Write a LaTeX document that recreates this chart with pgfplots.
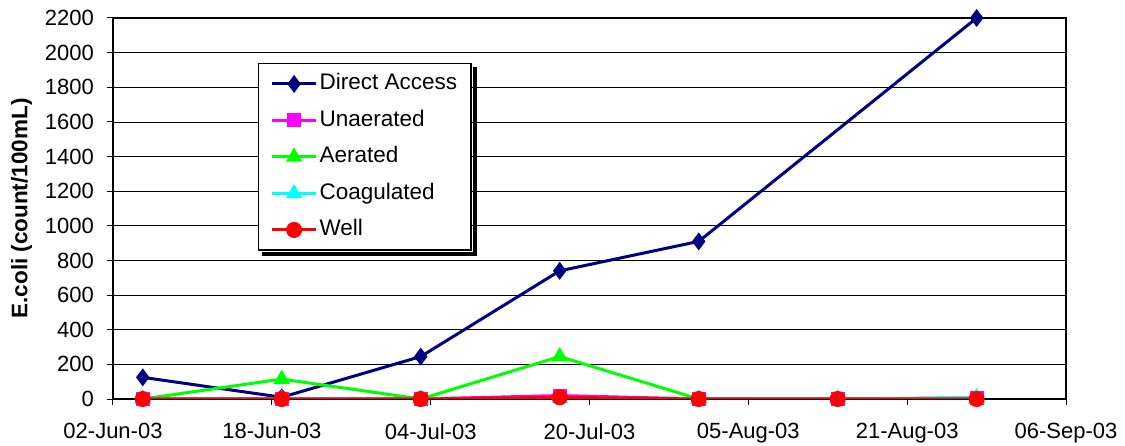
\documentclass[border=0pt]{standalone}
\usepackage{fontspec}
\setmainfont{Liberation Sans}
\usepackage{pgfplots}
\pgfplotsset{compat=1.18}

\definecolor{daccess}{RGB}{0,0,128}
\definecolor{unaer}{RGB}{255,0,255}
\definecolor{aer}{RGB}{0,255,0}
\definecolor{coag}{RGB}{0,255,255}
\definecolor{well}{RGB}{255,0,0}

% sampling days counted from 02-Jun-03
\pgfplotstableread{
day val
3   125
17  10
31  245
45  740
59  910
87  2200
}\directaccess
\pgfplotstableread{
day val
3   0
17  0
31  0
45  20
59  0
73  0
87  5
}\unaerated
\pgfplotstableread{
day val
3   0
17  115
31  0
45  245
59  0
73  0
87  0
}\aerated
\pgfplotstableread{
day val
3   0
17  0
31  0
45  5
59  0
73  0
87  10
}\coagulated
\pgfplotstableread{
day val
3   0
17  0
31  0
45  10
59  0
73  0
87  0
}\wellwater

\tikzset{series/.style={line width=3bp, mark size=#1,
  mark options={solid, line width=0.5bp}}}

\begin{document}
\begin{tikzpicture}
\useasboundingbox (-113bp,-47bp) rectangle (1012bp,399bp);
\begin{axis}[
  at={(0,0)}, anchor=south west,
  scale only axis, width=953bp, height=381bp,
  xmin=0, xmax=96, ymin=0, ymax=2200,
  xtick={0,16,...,96},
  xticklabels={02-Jun-03,18-Jun-03,04-Jul-03,20-Jul-03,05-Aug-03,21-Aug-03,06-Sep-03},
  ytick={0,200,...,2200},
  ymajorgrids, grid style={black, line width=0.8bp},
  axis line style={black, line width=1.5bp},
  tick pos=left, tick align=outside, major tick length=6bp,
  tick style={black, line width=1bp},
  /pgf/number format/assume math mode=true,
  /pgf/number format/1000 sep={},
  yticklabel style={font=\fontsize{22bp}{26bp}\selectfont, inner sep=0pt, xshift=-13bp},
  xticklabel style={font=\fontsize{22bp}{26bp}\selectfont, inner sep=0pt, yshift=-18bp},
  ylabel={E.coli (count/100mL)},
  every axis y label/.style={at={(axis description cs:-0.096,0.5)}, rotate=90, anchor=center,
    font=\bfseries\fontsize{22.5bp}{26bp}\selectfont},
  legend style={name=leg, at={(rel axis cs:0.152,0.882)}, anchor=north west,
    draw=black, line width=1.5bp, fill=white,
    font=\fontsize{22.5bp}{26bp}\selectfont,
    inner xsep=12bp, inner ysep=8bp, row sep=12bp,
    nodes={inner sep=2bp, text height=16bp, text depth=4.5bp}},
  legend cell align=left,
  legend image code/.code={\draw[mark repeat=2,mark phase=2] plot coordinates {(0bp,0bp) (22bp,0bp) (44bp,0bp)};},
]
\addplot[daccess, series=6.5bp, mark=diamond*, mark options={fill=daccess}] table[x=day, y=val] {\directaccess};
\addlegendentry{Direct Access}
\addplot[unaer, series=5.5bp, mark=square*, mark options={fill=unaer}] table[x=day, y=val] {\unaerated};
\addlegendentry{Unaerated}
\addplot[aer, series=6.5bp, mark=triangle*, mark options={fill=aer}] table[x=day, y=val] {\aerated};
\addlegendentry{Aerated}
\addplot[coag, series=6.5bp, mark=triangle*, mark options={fill=coag}] table[x=day, y=val] {\coagulated};
\addlegendentry{Coagulated}
\addplot[well, series=6.5bp, mark=*, mark options={fill=well}] table[x=day, y=val] {\wellwater};
\addlegendentry{Well}
\end{axis}
% drop shadow along the right and bottom edges of the legend box
\fill[black] ([xshift=0.75bp,yshift=-4bp]leg.north east) rectangle ([xshift=4.75bp,yshift=-4.75bp]leg.south east);
\fill[black] ([xshift=4bp,yshift=-0.75bp]leg.south west) rectangle ([xshift=4.75bp,yshift=-4.75bp]leg.south east);
\end{tikzpicture}
\end{document}
